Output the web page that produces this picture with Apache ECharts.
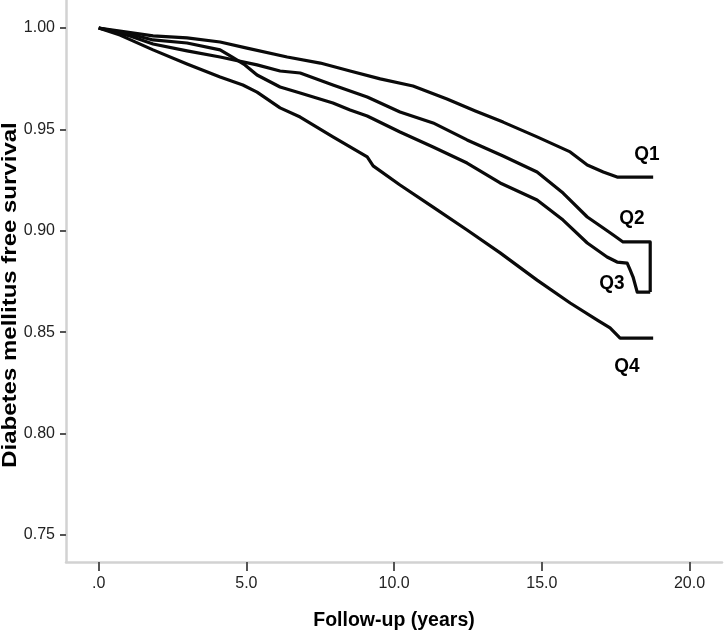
<!DOCTYPE html>
<html>
<head>
<meta charset="utf-8">
<script src="https://cdn.jsdelivr.net/npm/echarts@6/dist/echarts.min.js"></script>
<style>
html,body{margin:0;padding:0;background:#fff;}
#chart{width:724px;height:630px;}
</style>
</head>
<body>
<div id="chart"></div>
<script>
// ---- data ----
const xTickValues = [0, 5, 10, 15, 20];
const xTickLabels = ['.0', '5.0', '10.0', '15.0', '20.0'];
const yTickValues = [0.75, 0.80, 0.85, 0.90, 0.95, 1.00];
const yTickLabels = ['0.75', '0.80', '0.85', '0.90', '0.95', '1.00'];
const seriesNames = ['Q1', 'Q2', 'Q3', 'Q4'];

const q1 = [[0,1.0],[0.72,0.9985],[1.84,0.9961],[2.99,0.9951],[4.11,0.9931],[5.02,0.9901],[6.38,0.9857],[7.50,0.9827],[8.51,0.9788],[9.53,0.9749],[10.64,0.9714],[11.79,0.9650],[12.75,0.9591],[13.69,0.9536],[14.84,0.9463],[15.96,0.9389],[16.54,0.9324],[17.08,0.9290],[17.55,0.9265],[18.77,0.9265]];
const q2 = [[0,1.0],[1.06,0.9961],[1.84,0.9921],[2.99,0.9887],[4.11,0.9857],[5.36,0.9818],[6.14,0.9788],[6.82,0.9778],[7.93,0.9719],[9.09,0.9660],[10.20,0.9586],[11.32,0.9532],[12.47,0.9448],[13.08,0.9408],[13.69,0.9369],[14.84,0.9290],[15.72,0.9186],[16.54,0.9068],[17.08,0.9014],[17.42,0.8979],[17.75,0.8945],[18.67,0.8945],[18.67,0.8698]];
const q3 = [[0,1.0],[1.06,0.9970],[1.84,0.9941],[2.99,0.9926],[4.11,0.9892],[4.51,0.9857],[4.95,0.9818],[5.36,0.9768],[6.14,0.9709],[6.82,0.9679],[7.93,0.9630],[8.51,0.9596],[9.09,0.9566],[10.20,0.9487],[11.32,0.9413],[12.47,0.9334],[13.59,0.9236],[14.84,0.9152],[15.72,0.9053],[16.54,0.8940],[17.21,0.8871],[17.55,0.8846],[17.89,0.8841],[17.99,0.8807],[18.09,0.8772],[18.23,0.8698],[18.67,0.8698]];
const q4 = [[0,1.0],[0.72,0.9965],[1.84,0.9892],[2.99,0.9822],[4.11,0.9758],[4.88,0.9719],[5.36,0.9684],[6.14,0.9606],[6.82,0.9561],[7.93,0.9463],[9.09,0.9364],[9.29,0.9320],[10.20,0.9226],[11.32,0.9117],[12.47,0.9004],[13.59,0.8891],[14.84,0.8757],[15.96,0.8644],[16.88,0.8560],[17.31,0.8521],[17.65,0.8471],[18.77,0.8471]];
const allSeries = [q1, q2, q3, q4];

const xTitle = 'Follow-up (years)';
const yTitle = 'Diabetes mellitus free survival';

// ---- chart ----
const FONT = '"Liberation Sans", Arial, sans-serif';
const chart = echarts.init(document.getElementById('chart'), null, {renderer: 'canvas'});

const labelPos = [[647, 154], [632, 218], [612, 283], [627, 366]];

const option = {
  animation: false,
  backgroundColor: '#ffffff',
  grid: {left: 66, right: 2, top: 0, bottom: 68, containLabel: false},
  xAxis: {
    type: 'value',
    min: -1.107,
    max: 21.1,
    axisLine: {show: true, onZero: false, lineStyle: {color: '#d2d2d2', width: 2.5}},
    axisTick: {show: true, customValues: xTickValues, length: 9, lineStyle: {color: '#555555', width: 2}},
    axisLabel: {
      show: true, customValues: xTickValues, margin: 14,
      fontSize: 16, color: '#222222', fontFamily: FONT,
      formatter: function (v) { const i = xTickValues.indexOf(v); return i >= 0 ? xTickLabels[i] : ''; }
    },
    splitLine: {show: false}
  },
  yAxis: {
    type: 'value',
    min: 0.7367,
    max: 1.0138,
    axisLine: {show: true, onZero: false, lineStyle: {color: '#d2d2d2', width: 2.5}},
    axisTick: {show: true, customValues: yTickValues, length: 6, lineStyle: {color: '#555555', width: 2}},
    axisLabel: {
      show: true, customValues: yTickValues, margin: 11,
      fontSize: 16, color: '#222222', fontFamily: FONT,
      formatter: function (v) {
        for (let i = 0; i < yTickValues.length; i++) { if (Math.abs(yTickValues[i] - v) < 1e-6) return yTickLabels[i]; }
        return '';
      }
    },
    splitLine: {show: false}
  },
  series: allSeries.map(function (d, i) {
    return {
      name: seriesNames[i],
      type: 'line',
      data: d,
      showSymbol: false,
      symbol: 'none',
      lineStyle: {color: '#0a0a0a', width: 3.2, join: 'round'},
      emphasis: {disabled: true},
      z: 3
    };
  }),
  graphic: [
    {
      type: 'text', x: 10.5, y: 295, rotation: Math.PI / 2, scaleX: 1.2,
      style: {text: yTitle, fontSize: 20, fontWeight: 'bold', fontFamily: FONT, fill: '#000', align: 'center', verticalAlign: 'middle'}
    },
    {
      type: 'text', x: 394, y: 620, scaleY: 1.08,
      style: {text: xTitle, fontSize: 19.5, fontWeight: 'bold', fontFamily: FONT, fill: '#000', align: 'center', verticalAlign: 'middle'}
    }
  ].concat(seriesNames.map(function (n, i) {
    return {
      type: 'text', x: labelPos[i][0], y: labelPos[i][1], scaleY: 1.1,
      style: {text: n, fontSize: 19, fontWeight: 'bold', fontFamily: FONT, fill: '#000', align: 'center', verticalAlign: 'middle'}
    };
  }))
};
chart.setOption(option);
</script>
</body>
</html>
